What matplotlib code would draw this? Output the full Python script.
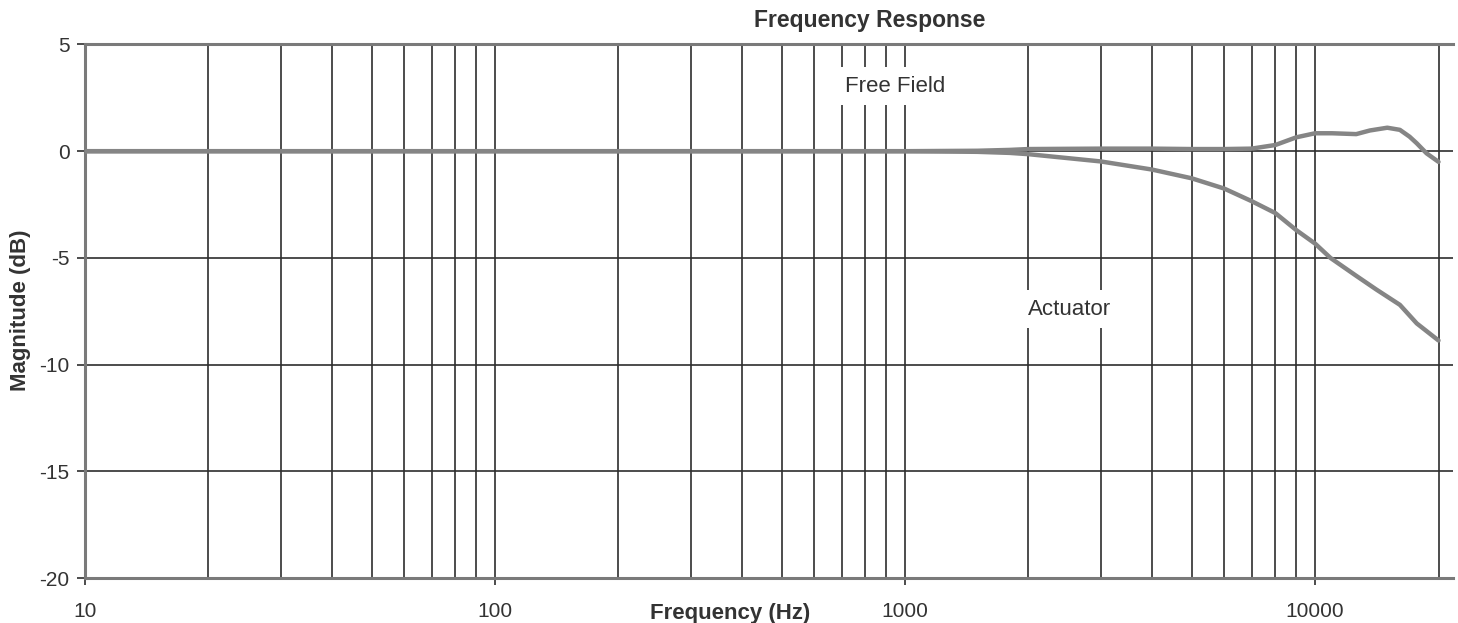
import matplotlib
matplotlib.use("Agg")
import matplotlib.pyplot as plt
from matplotlib.ticker import FixedLocator, NullFormatter

plt.rcParams['font.family'] = ['Liberation Sans', 'DejaVu Sans']
plt.rcParams['axes.unicode_minus'] = False

# ---- data ----
ff_freq = [10, 20, 50, 100, 200, 500, 1000, 1500, 1800, 2000, 3000, 4000, 5000,
           6000, 7000, 8000, 9000, 10000, 11000, 12600, 13600, 15000, 16100,
           17000, 17700, 18700, 20000]
ff_db = [0.0, 0.0, 0.0, 0.0, 0.0, 0.0, 0.0, 0.02, 0.06, 0.1, 0.12, 0.12, 0.1,
         0.1, 0.12, 0.29, 0.65, 0.84, 0.84, 0.8, 0.97, 1.1, 1.0,
         0.68, 0.37, -0.1, -0.5]

act_freq = [10, 20, 50, 100, 200, 500, 1000, 1500, 1800, 2000, 3000, 4000, 5000,
            6000, 7000, 8000, 9000, 10000, 10900, 12600, 14100, 16100, 17700, 20000]
act_db = [0.0, 0.0, 0.0, 0.0, 0.0, 0.0, 0.0, -0.03, -0.08, -0.14, -0.48, -0.86, -1.27,
          -1.75, -2.34, -2.9, -3.7, -4.33, -5.0, -5.84, -6.48, -7.2, -8.07, -8.87]

x_major = [10, 100, 1000, 10000]
x_major_labels = ['10', '100', '1000', '10000']
x_minor = [m * d for d in (10, 100, 1000) for m in range(2, 10)] + [20000]
y_ticks = [5, 0, -5, -10, -15, -20]

title = 'Frequency Response'
xlabel = 'Frequency (Hz)'
ylabel = 'Magnitude (dB)'

# ---- figure ----
fig = plt.figure(figsize=(14.58, 6.23), dpi=100)
ax = fig.add_axes([0.0583, 0.0722, 0.9383, 0.8564])

grid_c = '#2e2e2e'
line_c = '#858585'
spine_c = '#7a7a7a'

ax.set_xscale('log')
ax.set_xlim(10, 21700)
ax.set_ylim(-20, 5)

ax.xaxis.set_major_locator(FixedLocator(x_major))
ax.set_xticklabels(x_major_labels)
ax.xaxis.set_minor_locator(FixedLocator(x_minor))
ax.xaxis.set_minor_formatter(NullFormatter())
ax.set_yticks(y_ticks)

ax.grid(True, which='both', axis='x', color=grid_c, lw=1.2)
ax.grid(True, which='major', axis='y', color=grid_c, lw=1.2)
ax.set_axisbelow(True)

ax.plot(ff_freq, ff_db, color=line_c, lw=3.2, solid_capstyle='round', zorder=3)
ax.plot(act_freq, act_db, color=line_c, lw=3.2, solid_capstyle='round', zorder=3)

for s in ['top', 'bottom', 'left']:
    ax.spines[s].set_color(spine_c)
    ax.spines[s].set_linewidth(2.2)
ax.spines['right'].set_visible(False)

ax.tick_params(axis='x', which='major', length=5, width=1.2, color=grid_c,
               pad=12, labelsize=15, labelcolor='#333333')
ax.tick_params(axis='x', which='minor', length=0)
ax.tick_params(axis='y', which='major', length=6, width=1.2, color=grid_c,
               pad=5, labelsize=15, labelcolor='#333333')

ax.text(946, 3.05, 'Free Field', fontsize=16, color='#333333', ha='center', va='center',
        bbox=dict(facecolor='white', edgecolor='none', pad=6), zorder=4)
ax.text(2520, -7.4, 'Actuator', fontsize=16, color='#333333', ha='center', va='center',
        bbox=dict(facecolor='white', edgecolor='none', pad=6), zorder=4)

fig.text(870 / 1458, 1 - 20 / 623, title, fontsize=16.5, fontweight='bold',
         color='#333333', ha='center', va='center')
fig.text(730 / 1458, 1 - 613 / 623, xlabel, fontsize=16, fontweight='bold',
         color='#333333', ha='center', va='center')
fig.text(21 / 1458, 1 - 310 / 623, ylabel, fontsize=16, fontweight='bold',
         color='#333333', ha='center', va='center', rotation=90)

fig.savefig('out.png', dpi=100, facecolor='white')
